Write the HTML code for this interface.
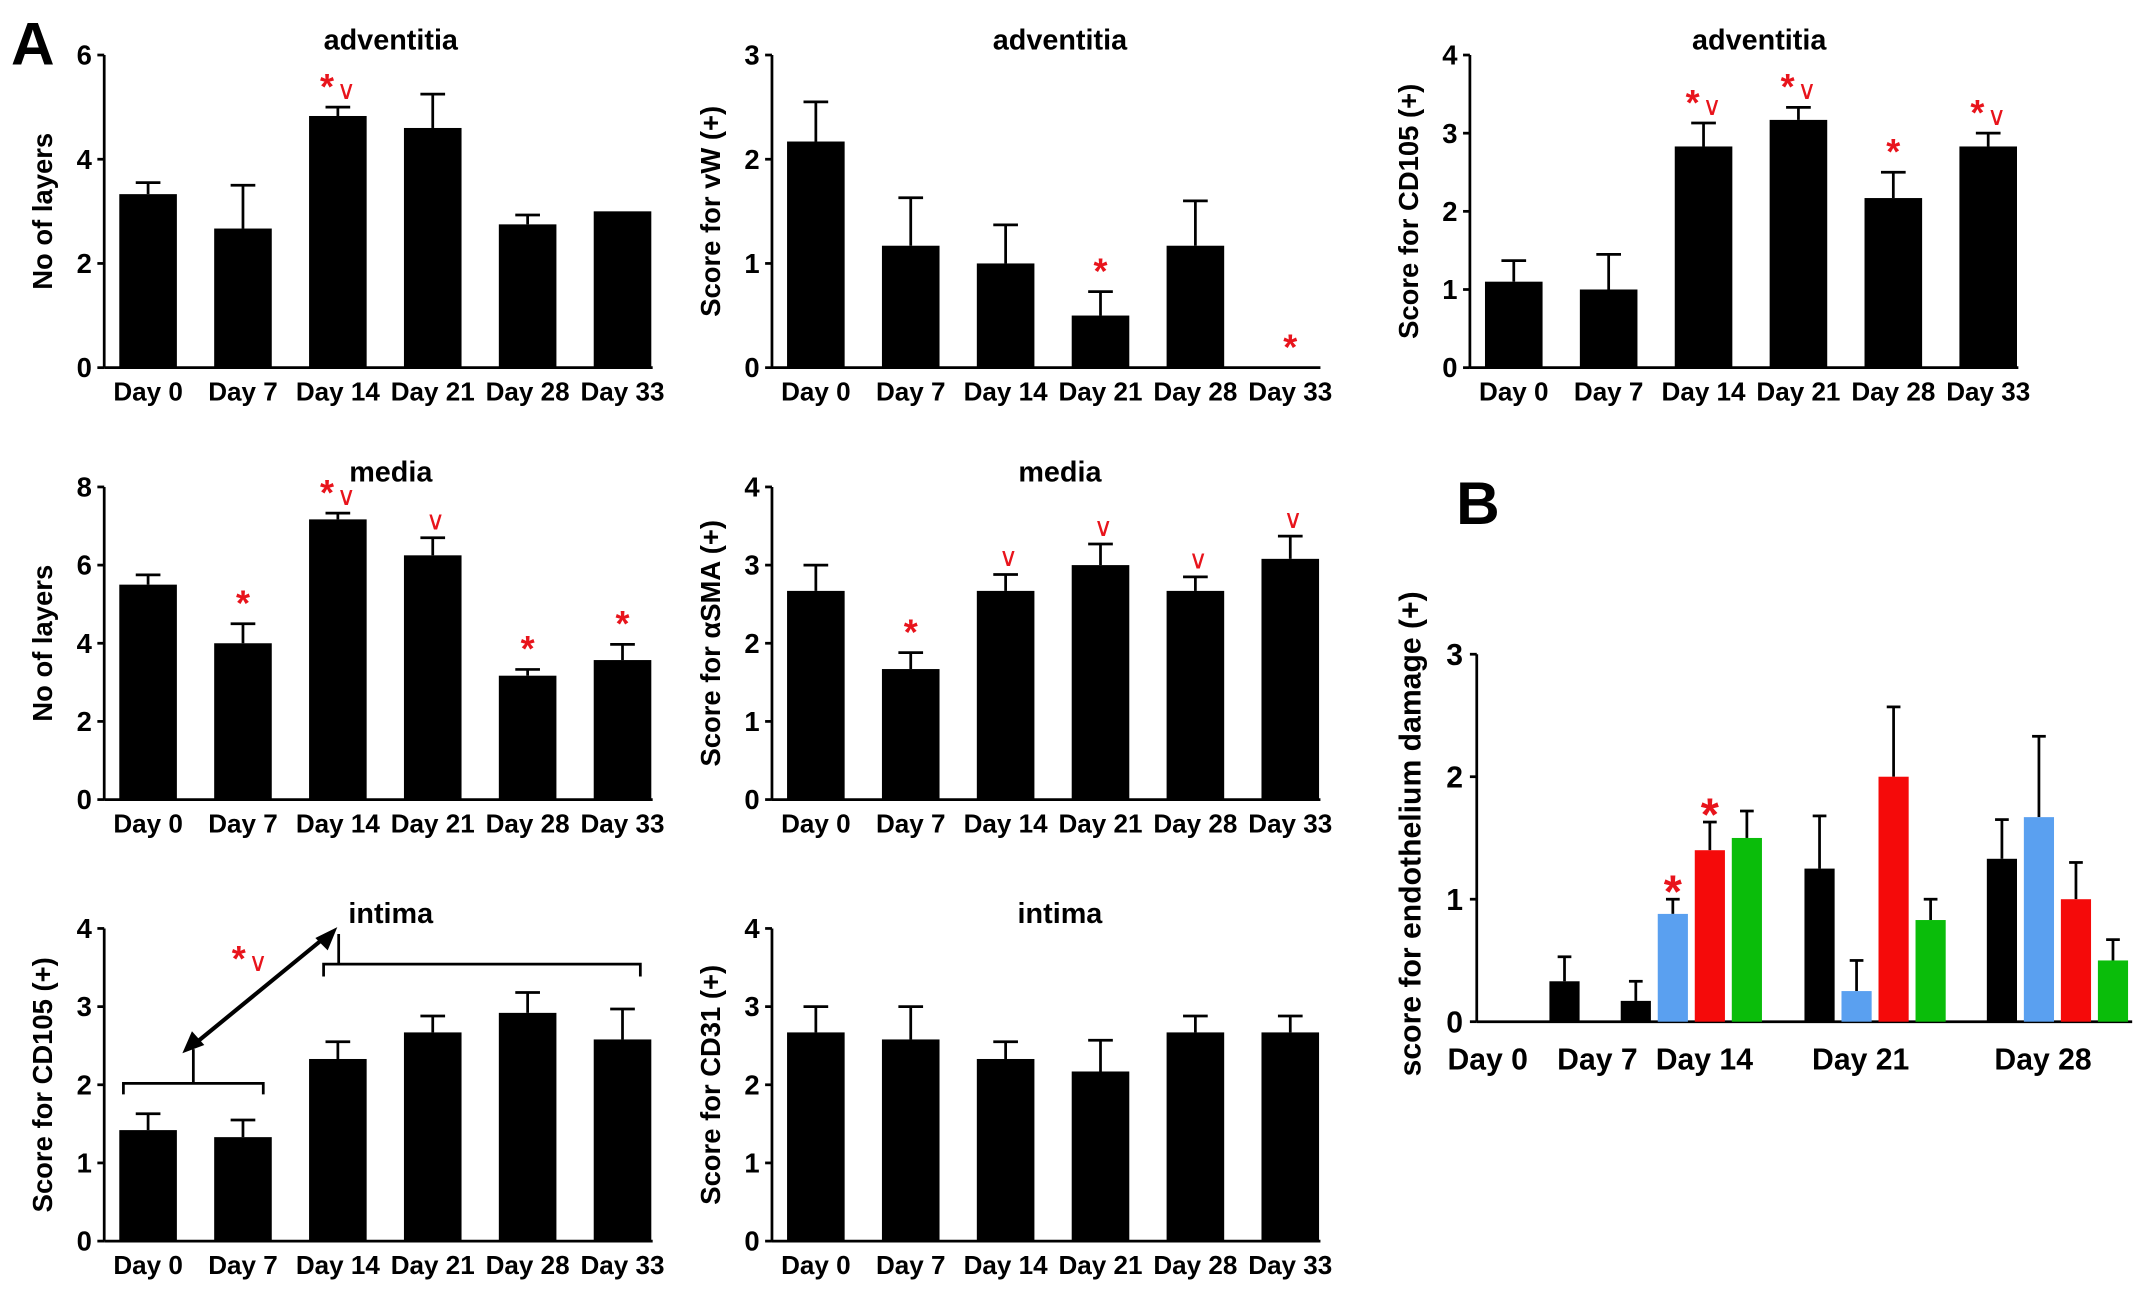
<!DOCTYPE html>
<html><head><meta charset="utf-8"><style>
html,body{margin:0;padding:0;background:#fff;}
svg{display:block;font-family:"Liberation Sans",Arial,sans-serif;}
</style></head><body>
<svg id="fig" width="2150" height="1292" viewBox="0 0 1568 942" xmlns="http://www.w3.org/2000/svg">
<text x="8" y="47" font-size="44" font-weight="bold">A</text>
<text x="1062" y="382" font-size="44" font-weight="bold">B</text>
</svg>
<script>
const days = ["Day 0","Day 7","Day 14","Day 21","Day 28","Day 33"];
const advLayers = [3.33,2.67,4.83,4.6,2.75,3.0];
const advLayersErr = [3.55,3.5,5.0,5.25,2.93,3.0];
const advVW = [2.17,1.17,1.0,0.5,1.17,0];
const advVWErr = [2.55,1.63,1.37,0.73,1.6,0];
const advCD105 = [1.1,1.0,2.83,3.17,2.17,2.83];
const advCD105Err = [1.37,1.45,3.13,3.33,2.5,3.0];
const medLayers = [5.5,4.0,7.17,6.25,3.17,3.57];
const medLayersErr = [5.75,4.5,7.33,6.7,3.33,3.97];
const medSMA = [2.67,1.67,2.67,3.0,2.67,3.08];
const medSMAErr = [3.0,1.88,2.88,3.27,2.85,3.37];
const intCD105 = [1.42,1.33,2.33,2.67,2.92,2.58];
const intCD105Err = [1.63,1.55,2.55,2.88,3.18,2.97];
const intCD31 = [2.67,2.58,2.33,2.17,2.67,2.67];
const intCD31Err = [3.0,3.0,2.55,2.57,2.88,2.88];
const annAdvLayers = ["","","*∨","","",""];
const annAdvVW = ["","","","*","","*"];
const annAdvCD105 = ["","","*∨","*∨","*","*∨"];
const annMedLayers = ["","*","*∨","∨","*","*"];
const annMedSMA = ["","*","∨","∨","∨","∨"];
const none6 = ["","","","","",""];
// Panel B
const bGroups = ["Day 0","Day 7","Day 14","Day 21","Day 28"];
const bBlack = [0,0.33,0.17,1.25,1.33];
const bBlackErr = [0,0.53,0.33,1.68,1.65];
const bBlue = [null,null,0.88,0.25,1.67];
const bBlueErr = [null,null,1.0,0.5,2.33];
const bRed = [null,null,1.4,2.0,1.0];
const bRedErr = [null,null,1.63,2.57,1.3];
const bGreen = [null,null,1.5,0.83,0.5];
const bGreenErr = [null,null,1.72,1.0,0.67];
const bTicks = [0,1,2,3];

const NS="http://www.w3.org/2000/svg";
const svg=document.getElementById('fig');
function mk(tag,attrs,parent){const e=document.createElementNS(NS,tag);for(const k in attrs)e.setAttribute(k,attrs[k]);(parent||svg).appendChild(e);return e;}

function annot(g,x,y,txt,size){
  const t=mk('text',{x:x,y:y,'font-size':size||22,fill:'#e8141c','text-anchor':'middle'},g);
  
  
  for(const ch of txt){
    const ts=mk('tspan',{},t);
    if(ch==='*'){ts.setAttribute('font-size',(size||22)*1.25);ts.setAttribute('font-weight','bold');}
    else{ts.setAttribute('font-size',(size||22)*0.9);ts.setAttribute('dx','2');}
    ts.textContent=ch;
  }
}

function panel(name,ax,top,zero,ymax,tickStep,vals,errs,anns,title,ylab,titleX){
  const g=mk('g',{});
  
  
  const axisEnd=ax+400;
  const y=v=>zero-(v/ymax)*(zero-top);
  const xc=i=>ax+32+i*69.2;
  const ya=mk('line',{x1:ax,y1:top,x2:ax,y2:zero,stroke:'#000','stroke-width':2},g);
  
  
  const xa=mk('line',{x1:ax,y1:zero,x2:axisEnd,y2:zero,stroke:'#000','stroke-width':2},g);
  
  
  for(let t=0;t<=ymax+1e-9;t+=tickStep){
    mk('line',{x1:ax-5,y1:y(t),x2:ax,y2:y(t),stroke:'#000','stroke-width':2},g);
    const tl=mk('text',{x:ax-9,y:y(t)+7,'font-size':20,'font-weight':'bold','text-anchor':'end'},g);
    tl.textContent=t;
    
    
  }
  vals.forEach((v,i)=>{
    const cx=xc(i);
    if(errs[i]>v){
      mk('line',{x1:cx,y1:y(errs[i]),x2:cx,y2:y(v),stroke:'#000','stroke-width':2},g);
      mk('line',{x1:cx-9,y1:y(errs[i]),x2:cx+9,y2:y(errs[i]),stroke:'#000','stroke-width':2},g);
    }
    if(v>0){
      const b=mk('rect',{x:cx-21,y:y(v),width:42,height:zero-y(v),fill:'#000'},g);
      
      
    }
    const xl=mk('text',{x:cx,y:zero+24,'font-size':19,'font-weight':'bold','text-anchor':'middle'},g);
    xl.textContent=days[i];
    
    
    if(anns[i]){
      const top2=Math.max(errs[i],v);
      annot(g,cx,y(top2)-6,anns[i],21);
    }
  });
  const tt=mk('text',{x:titleX,y:top-4,'font-size':21,'font-weight':'bold','text-anchor':'middle'},g);
  tt.textContent=title;
  
  
  const yl=mk('text',{x:0,y:0,'font-size':20,'font-weight':'bold','text-anchor':'middle',transform:`translate(${ax-38},${(top+zero)/2}) rotate(-90)`},g);
  yl.textContent=ylab;
  
  
  return {y,xc,g};
}
panel('chart-adventitia-layers',76,40,268,6,2,advLayers,advLayersErr,annAdvLayers,'adventitia','No of layers',285);
panel('chart-adventitia-vw',563,40,268,3,1,advVW,advVWErr,annAdvVW,'adventitia','Score for vW (+)',773);
panel('chart-adventitia-cd105',1072,40,268,4,1,advCD105,advCD105Err,annAdvCD105,'adventitia','Score for CD105 (+)',1283);
panel('chart-media-layers',76,355,583,8,2,medLayers,medLayersErr,annMedLayers,'media','No of layers',285);
panel('chart-media-asma',563,355,583,4,1,medSMA,medSMAErr,annMedSMA,'media','Score for αSMA (+)',773);
const p6=panel('chart-intima-cd105',76,677,905,4,1,intCD105,intCD105Err,none6,'intima','Score for CD105 (+)',285);
panel('chart-intima-cd31',563,677,905,4,1,intCD31,intCD31Err,none6,'intima','Score for CD31 (+)',773);
// brackets for intima
(function(){
  const g=p6.g;
  const s={stroke:'#000','stroke-width':2,fill:'none'};
  const b1=mk('path',Object.assign({d:'M90,798 V790 H192 V798 M141,790 V765'},s),g);
  
  
  const b2=mk('path',Object.assign({d:'M236,712 V703 H467 V712 M247,703 V681'},s),g);
  
  
  const ar=mk('line',{x1:141,y1:762,x2:240,y2:681,stroke:'#000','stroke-width':3},g);
  
  
  mk('polygon',{points:'133,768 140,752 149,762',fill:'#000'},g);
  mk('polygon',{points:'246,676 230,684 239,693',fill:'#000'},g);
  annot(g,182,708,'*∨',21);
})();
// Panel B
(function(){
  const g=mk('g',{});
  
  
  const ax=1077,top=477,zero=745,ymax=3,xEnd=1555;
  const y=v=>zero-(v/ymax)*(zero-top);
  const ya=mk('line',{x1:ax,y1:top,x2:ax,y2:zero,stroke:'#000','stroke-width':2},g);
  
  
  const xa=mk('line',{x1:ax,y1:zero,x2:xEnd,y2:zero,stroke:'#000','stroke-width':2},g);
  
  
  bTicks.forEach(t=>{
    mk('line',{x1:ax-5,y1:y(t),x2:ax,y2:y(t),stroke:'#000','stroke-width':2},g);
    const tl=mk('text',{x:ax-10,y:y(t)+8,'font-size':22,'font-weight':'bold','text-anchor':'end'},g);
    tl.textContent=t;
    
    
  });
  const blackX=i=>[1088,1141,1193,1327,1460][i];
  const labelX=[1085,1165,1243,1357,1490];
  const series=[[bBlack,bBlackErr,'#000','black'],[bBlue,bBlueErr,'#5aa0f0','blue'],[bRed,bRedErr,'#f50a0a','red'],[bGreen,bGreenErr,'#0abd0a','green']];
  const annB={'1-2':'*','2-2':'*'};
  series.forEach((s,si)=>{
    s[0].forEach((v,i)=>{
      if(v===null||v<=0)return;
      const cx=blackX(i)+si*27;
      const e=s[1][i];
      mk('line',{x1:cx,y1:y(e),x2:cx,y2:y(v),stroke:'#000','stroke-width':2},g);
      mk('line',{x1:cx-5,y1:y(e),x2:cx+5,y2:y(e),stroke:'#000','stroke-width':2},g);
      const b=mk('rect',{x:cx-11,y:y(v),width:22,height:zero-y(v),fill:s[2]},g);
      
      
      const k=si+'-'+i;
      if(annB[k]){
        const a=mk('text',{x:cx,y:y(e)+6,'font-size':34,'font-weight':'bold',fill:'#e8141c','text-anchor':'middle'},g);
        a.textContent=annB[k];
        
        
      }
    });
  });
  bGroups.forEach((d,i)=>{
    const xl=mk('text',{x:labelX[i],y:780,'font-size':22,'font-weight':'bold','text-anchor':'middle'},g);
    xl.textContent=d;
    
    
  });
  const yl=mk('text',{x:0,y:0,'font-size':22,'font-weight':'bold','text-anchor':'middle',transform:'translate(1036,608) rotate(-90)'},g);
  yl.textContent='score for endothelium damage (+)';
  
  
})();
</script>
</body></html>
